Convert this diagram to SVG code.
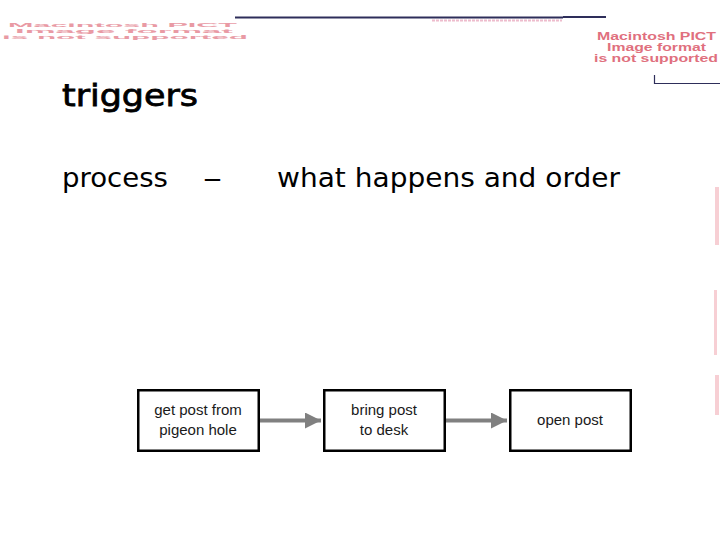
<svg xmlns="http://www.w3.org/2000/svg" width="720" height="540" viewBox="0 0 720 540">
<style>
.pict{font-family:"Liberation Sans",Arial,sans-serif;font-weight:bold;fill:#e0707e;}
.box{fill:#fff;stroke:#000;stroke-width:2.5;}
.lbl{font-family:"Liberation Sans",Arial,sans-serif;font-size:15px;fill:#1a1a1a;text-anchor:middle;}
.big{font-family:"DejaVu Sans",Tahoma,sans-serif;font-size:27px;fill:#000;}
.conn{stroke:#808080;stroke-width:4;fill:none;}
.rule{stroke:#2e2e5a;stroke-width:2;fill:none;}
</style>
<defs>
<marker id="ah" markerWidth="4" markerHeight="4" refX="4" refY="2" orient="auto" markerUnits="strokeWidth">
<path d="M0,0 L4,2 L0,4 z" fill="#808080"/>
</marker>
</defs>
<rect width="720" height="540" fill="#fff"/>
<g id="decor">
<g opacity="0.7">
<text class="pict" font-size="5" x="8" y="26.5" textLength="229" lengthAdjust="spacingAndGlyphs">Macintosh PICT</text>
<text class="pict" font-size="5" x="15" y="32.5" textLength="218" lengthAdjust="spacingAndGlyphs">Image format</text>
<text class="pict" font-size="5" x="2" y="38.5" textLength="246" lengthAdjust="spacingAndGlyphs">is not supported</text>
</g>
<path class="rule" d="M235,17.5 H563 M563,17 H606"/>
<line x1="432" y1="20.5" x2="562" y2="20.5" stroke="#e8a0b8" stroke-width="2" stroke-dasharray="3 1" opacity="0.7"/>
<text class="pict" font-size="10.5" x="597" y="40" textLength="119" lengthAdjust="spacingAndGlyphs">Macintosh PICT</text>
<text class="pict" font-size="10.5" x="607" y="51" textLength="99" lengthAdjust="spacingAndGlyphs">Image format</text>
<text class="pict" font-size="10.5" x="594" y="62" textLength="124" lengthAdjust="spacingAndGlyphs">is not supported</text>
<path d="M654.5,75 V83.5 H720" stroke="#2e2e5a" stroke-width="1.2" fill="none"/>
<g fill="#f0a0aa" opacity="0.5">
<rect x="715" y="187" width="4" height="58"/>
<rect x="714" y="290" width="3" height="65"/>
<rect x="715" y="375" width="4" height="40"/>
</g>
</g>
<g id="title">
<text x="62" y="106" font-family="'DejaVu Sans',sans-serif" font-size="31" textLength="136" lengthAdjust="spacingAndGlyphs" fill="#000" stroke="#000" stroke-width="0.8">triggers</text>
</g>
<g id="subtitle">
<text class="big" x="62" y="187" textLength="106" lengthAdjust="spacingAndGlyphs">process</text>
<text class="big" x="203" y="187" textLength="19" lengthAdjust="spacingAndGlyphs">–</text>
<text class="big" x="277" y="187" textLength="343" lengthAdjust="spacingAndGlyphs">what happens and order</text>
</g>
<g id="connectors">
<line class="conn" x1="260" y1="420.5" x2="321" y2="420.5" marker-end="url(#ah)"/>
<line class="conn" x1="446" y1="420.5" x2="507" y2="420.5" marker-end="url(#ah)"/>
</g>
<g id="n1">
<rect class="box" x="138.25" y="390.25" width="120.5" height="60.5"/>
<text class="lbl" x="198" y="415">get post from</text>
<text class="lbl" x="198" y="435">pigeon hole</text>
</g>
<g id="n2">
<rect class="box" x="324.25" y="390.25" width="120.5" height="60.5"/>
<text class="lbl" x="384" y="415">bring post</text>
<text class="lbl" x="384" y="435">to desk</text>
</g>
<g id="n3">
<rect class="box" x="510.25" y="390.25" width="120.5" height="60.5"/>
<text class="lbl" x="570" y="425">open post</text>
</g>
</svg>
